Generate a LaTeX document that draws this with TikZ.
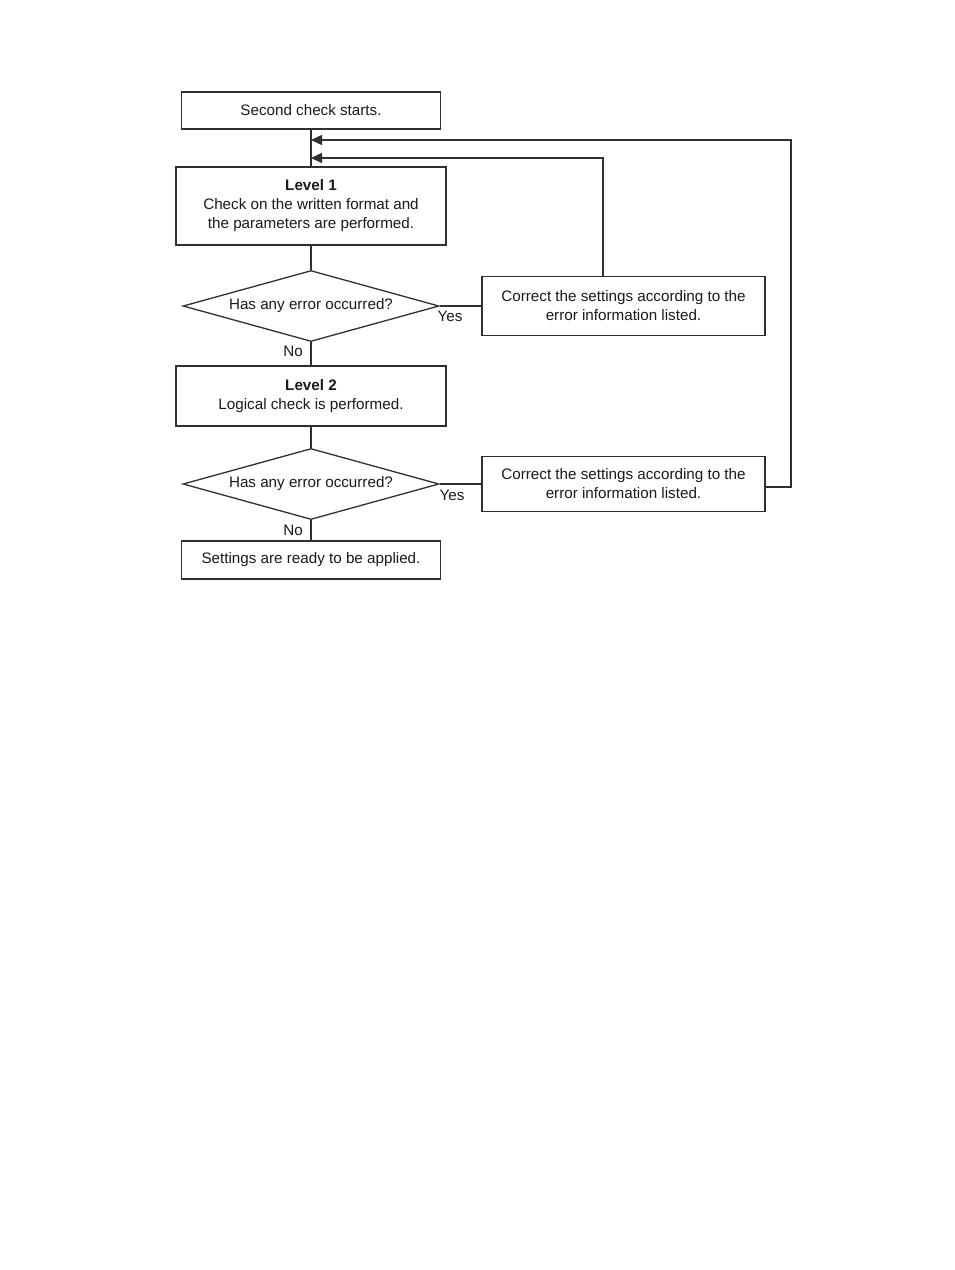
\documentclass[tikz,border=0pt]{standalone}
\usepackage{fontspec}
\setmainfont{Liberation Sans}
\usetikzlibrary{shapes.geometric,arrows.meta}
\definecolor{ln}{HTML}{303030}
\definecolor{tx}{HTML}{1A1A1A}
\begin{document}
\begin{tikzpicture}[x=1pt,y=-1pt,
  every node/.style={text=tx,font=\fontsize{15.2}{19}\selectfont},
  proc/.style={draw=ln,line width=1.3pt,rectangle,inner sep=0pt,align=center},
  decide/.style={draw=ln,line width=1.3pt,diamond,aspect=3.6,inner sep=0pt,minimum width=256pt,minimum height=71pt},
  conn/.style={draw=ln,line width=1.3pt},
  arr/.style={conn,-{Triangle[length=11pt,width=10pt]}},
  lbl/.style={inner sep=0pt}]
\useasboundingbox (0,0) rectangle (954,1270);
\fill[white] (0,0) rectangle (954,1270);
\node[proc,minimum width=259pt,minimum height=37pt] (start) at (311,110.5) {Second check starts.};
\node[proc,minimum width=270pt,minimum height=78pt] (l1) at (311,206) {\textbf{Level 1}\\Check on the written format and\\the parameters are performed.};
\node[decide] (d1) at (311,306) {\raisebox{-2pt}{Has any error occurred?}};
\node[proc,minimum width=283pt,minimum height=59pt] (c1) at (623.5,306) {Correct the settings according to the\\error information listed.};
\node[proc,minimum width=270pt,minimum height=60pt] (l2) at (311,396) {\textbf{Level 2}\\Logical check is performed.};
\node[decide] (d2) at (311,484) {\raisebox{-2pt}{Has any error occurred?}};
\node[proc,minimum width=283pt,minimum height=55pt] (c2) at (623.5,484) {Correct the settings according to the\\error information listed.};
\node[proc,minimum width=259pt,minimum height=38pt] (fin) at (311,560) {Settings are ready to be applied.};
\coordinate (j1) at (311,158);
\coordinate (j2) at (311,140);
\coordinate (up1) at (603,158);
\coordinate (rr) at (791,487);
\draw[conn] (start.south) -- (l1.north);
\draw[conn] (l1.south) -- (d1.north);
\draw[conn] (d1.east) -- (c1.west);
\draw[conn] (d1.south) -- (l2.north);
\draw[conn] (l2.south) -- (d2.north);
\draw[conn] (d2.east) -- (c2.west);
\draw[conn] (d2.south) -- (fin.north);
\draw[arr] (c1.north -| up1) -- (up1) -- (j1);
\draw[arr] (c2.east |- rr) -- (rr) |- (j2);
\node[lbl] (y1) at (450,316) {Yes};
\node[lbl] (n1) at (293,351) {No};
\node[lbl] (y2) at (452,495) {Yes};
\node[lbl] (n2) at (293,530) {No};
\end{tikzpicture}
\end{document}
